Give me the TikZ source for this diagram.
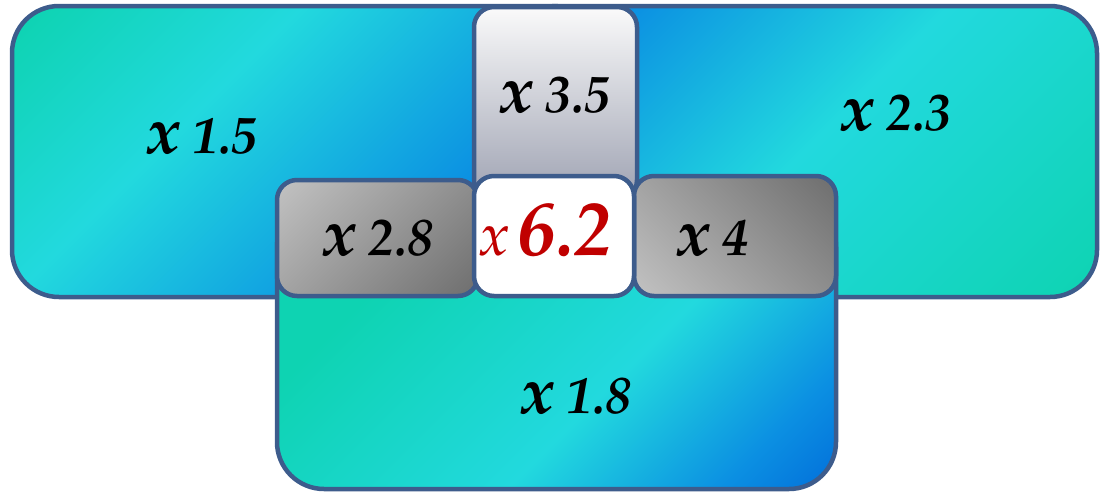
\documentclass[tikz,border=0pt]{standalone}
\usepackage[T1]{fontenc}
\usepackage{mathpazo}
\definecolor{bord}{HTML}{3D5C8C}
\definecolor{tgreen}{HTML}{0ED3B2}
\definecolor{tcyan}{HTML}{22D9DE}
\definecolor{tblue}{HTML}{0B8FE2}
\definecolor{dblue}{HTML}{0066D8}
\definecolor{redtxt}{HTML}{C00000}
\definecolor{glight}{HTML}{C2C2C2}
\definecolor{gdark}{HTML}{6E6E6E}
\definecolor{gtop}{HTML}{FAFAFA}
\definecolor{gbot}{HTML}{9EA2B2}
\pgfdeclarehorizontalshading{shL}{100bp}{color(0bp)=(tgreen); color(16bp)=(tgreen); color(38bp)=(tcyan); color(66bp)=(tblue); color(100bp)=(tblue)}
\pgfdeclarehorizontalshading{shR}{100bp}{color(0bp)=(tblue); color(24bp)=(tblue); color(50bp)=(tcyan); color(85bp)=(tgreen); color(100bp)=(tgreen)}
\pgfdeclarehorizontalshading{shB}{100bp}{color(0bp)=(tgreen); color(30bp)=(tgreen); color(58bp)=(tcyan); color(76bp)=(tblue); color(88bp)=(dblue); color(100bp)=(dblue)}
\pgfdeclarehorizontalshading{shG}{100bp}{color(0bp)=(glight); color(15bp)=(glight); color(85bp)=(gdark); color(100bp)=(gdark)}
\newcommand\timesx[1]{{\fontsize{66}{66}\selectfont\bfseries\itshape #1}}
\newcommand\numx[1]{{\fontsize{52}{52}\selectfont\bfseries\itshape #1}}
\tikzset{
  box/.style={draw=bord, line width=4.5pt},
  bigbox/.style={box, rounded corners=47pt},
  smallbox/.style={box, rounded corners=20pt},
  lbl/.style={anchor=base, inner sep=0pt, text=black},
}
\begin{document}
\begin{tikzpicture}[x=1pt,y=-1pt]
\useasboundingbox (0,0) rectangle (1101,493);
% big top boxes
\path[bigbox, shading=shL, shading angle=-45] (12,6) rectangle (600,297);
\path[bigbox, shading=shR, shading angle=-45] (510,6) rectangle (1097,297);
% bottom box
\path[bigbox, shading=shB, shading angle=-45] (277,200) rectangle (836,489);
% 3.5 box
\path[smallbox, top color=gtop, bottom color=gbot] (474,7) rectangle (637,200);
% 2.8 box
\path[smallbox, shading=shG, shading angle=-45] (277,180) rectangle (478,296);
% 4 box
\path[smallbox, shading=shG, shading angle=45] (634,176) rectangle (836,296);
% 6.2 box
\path[smallbox, fill=white] (474,176) rectangle (634,296);
% labels
\node[lbl] (t15) at (202,153) {\timesx{x}\hspace{12pt}\numx{1.5}};
\node[lbl] (t35) at (555,112) {\timesx{x}\hspace{12pt}\numx{3.5}};
\node[lbl] (t23) at (896,130) {\timesx{x}\hspace{12pt}\numx{2.3}};
\node[lbl] (t28) at (378,255) {\timesx{x}\hspace{12pt}\numx{2.8}};
\node[lbl] (t4)  at (713,255) {\timesx{x}\hspace{12pt}\numx{4}};
\node[lbl] (t18) at (576,413) {\timesx{x}\hspace{12pt}\numx{1.8}};
\node[lbl, text=redtxt] (t62) at (546,255) {{\fontsize{60}{60}\selectfont\itshape x}\hspace{8pt}{\fontsize{76}{76}\selectfont\bfseries\itshape 6.2}};
\end{tikzpicture}
\end{document}
